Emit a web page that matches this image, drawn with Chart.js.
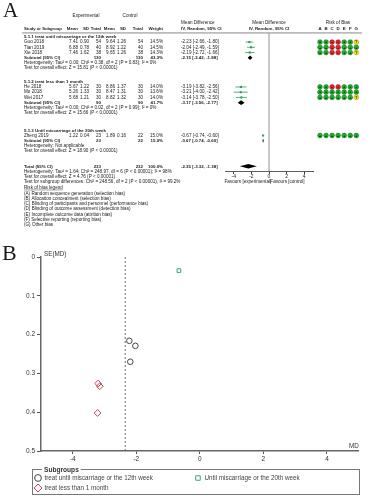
<!DOCTYPE html>
<html lang="en">
<head>
  <meta charset="UTF-8" />
  <title>Forest plot and funnel plot</title>
  <script src="https://cdn.jsdelivr.net/npm/chart.js"></script>
  <style>
    html, body { margin: 0; padding: 0; background: #fff; }
    #wrap { position: relative; width: 370px; height: 497px; overflow: hidden; }
    #forest { position: absolute; left: 0; top: 0; }
    #funnel { position: absolute; left: 0; top: 240px; }
  </style>
</head>
<body>
  <div id="wrap">
    <canvas id="forest" width="370" height="240"></canvas>
    <canvas id="funnel" width="370" height="257"></canvas>
  </div>

  <script>
    // ---------- panel A : forest plot ----------
    const studies   = ['Guo 2018', 'Tian 2019', 'Xie 2018', 'He 2018', 'Mo 2018', 'Wei 2017', 'Zheng 2019'];
    const studyGroup = [0, 0, 0, 1, 1, 1, 2];
    const expMean   = [7.41, 6.88, 7.46, 5.67, 5.26, 5.68, 1.22];
    const expSD     = [0.90, 0.78, 1.62, 1.22, 1.33, 1.21, 0.04];
    const expTotal  = [54, 40, 38, 30, 30, 30, 23];
    const ctlMean   = [9.64, 8.92, 9.65, 8.86, 8.47, 8.82, 1.89];
    const ctlSD     = [1.26, 1.22, 1.26, 1.37, 1.31, 1.32, 0.16];
    const ctlTotal  = [54, 40, 38, 30, 30, 30, 22];
    const weights   = [14.5, 14.5, 14.3, 14.0, 13.6, 14.0, 15.0];
    const md        = [-2.23, -2.04, -2.19, -3.19, -3.21, -3.14, -0.67];
    const mdLo      = [-2.66, -2.49, -2.72, -3.82, -4.00, -3.78, -0.74];
    const mdHi      = [-1.80, -1.59, -1.66, -2.56, -2.42, -2.50, -0.60];
    const riskOfBias = ['++--++?', '++--+++', '++--++?', '++--+++', '+++++++', '++++++?', '+++++++'];

    const groupNames = ['5.1.1 treat until miscarriage or the 12th week', '5.1.2 treat less than 1 month', '5.1.3 Until miscarriage of the 20th week'];
    const groupExpTotal = [130, 90, 23];
    const groupCtlTotal = [130, 90, 22];
    const groupWeight = [43.3, 41.7, 15.0];
    const groupMd = [-2.15, -3.17, -0.67];
    const groupLo = [-2.42, -3.56, -0.74];
    const groupHi = [-1.88, -2.77, -0.60];
    const groupHet = [
      'Heterogeneity: Tau² = 0.00; Chi² = 0.38, df = 2 (P = 0.83); I² = 0%',
      'Heterogeneity: Tau² = 0.00; Chi² = 0.02, df = 2 (P = 0.99); I² = 0%',
      'Heterogeneity: Not applicable'
    ];
    const groupTest = [
      'Test for overall effect: Z = 15.81 (P < 0.00001)',
      'Test for overall effect: Z = 15.66 (P < 0.00001)',
      'Test for overall effect: Z = 18.90 (P < 0.00001)'
    ];
    const totalExp = 233, totalCtl = 232, totalMd = -2.35, totalLo = -3.32, totalHi = -1.38;
    const totalNotes = [
      'Heterogeneity: Tau² = 1.64; Chi² = 248.97, df = 6 (P < 0.00001); I² = 98%',
      'Test for overall effect: Z = 4.76 (P < 0.00001)',
      'Test for subgroup differences: Chi² = 248.56, df = 2 (P < 0.00001), I² = 99.2%'
    ];
    const biasLegend = [
      '(A) Random sequence generation (selection bias)',
      '(B) Allocation concealment (selection bias)',
      '(C) Blinding of participants and personnel (performance bias)',
      '(D) Blinding of outcome assessment (detection bias)',
      '(E) Incomplete outcome data (attrition bias)',
      '(F) Selective reporting (reporting bias)',
      '(G) Other bias'
    ];
    const forestTicks = [-4, -2, 0, 2, 4];

    // ---------- panel B : funnel plot ----------
    const subgroupLabels = ['treat until miscarriage or the 12th week', 'treat less than 1 month', 'Until miscarriage or the 20th week'];
    const g1MD = [-2.22, -2.03, -2.19];
    const g1SE = [0.216, 0.229, 0.270];
    const g2MD = [-3.20, -3.15, -3.22];
    const g2SE = [0.326, 0.333, 0.402];
    const g3MD = [-0.66];
    const g3SE = [0.035];
    const pooledMD = -2.35;
    const funnelTicksX = [-4, -2, 0, 2, 4];
    const funnelTicksY = [0, 0.1, 0.2, 0.3, 0.4, 0.5];

    const FONT = '"Liberation Sans", Arial, sans-serif';
    const SERIF = '"Liberation Serif", "DejaVu Serif", serif';

    // line layout of the forest table (in text lines)
    const LINE_H = 5.4, LINE0_PX = 34, FOREST_H = 240;
    const groupStart = [0, 8.6, 17.9];
    const totalLine = 24.8;

    function studyLine(i) {
      const g = studyGroup[i];
      const first = studyGroup.indexOf(g);
      return groupStart[g] + 1 + (i - first);
    }
    function groupSize(g) { return studyGroup.filter(v => v === g).length; }

    function txt(ctx, s, x, y, align, bold, size) {
      ctx.font = (bold ? 'bold ' : '') + (size || (bold ? 4.4 : 4.6)) + 'px ' + FONT;
      ctx.textAlign = align || 'left';
      ctx.textBaseline = 'middle';
      ctx.fillText(s, x, y);
    }

    function diamond(ctx, x, lo, hi, c, yy) {
      ctx.beginPath();
      ctx.moveTo(x.getPixelForValue(lo), yy);
      ctx.lineTo(x.getPixelForValue(c), yy - 2.3);
      ctx.lineTo(x.getPixelForValue(hi), yy);
      ctx.lineTo(x.getPixelForValue(c), yy + 2.3);
      ctx.closePath();
      ctx.fillStyle = '#000';
      ctx.fill();
    }

    const forestDraw = {
      id: 'forestDraw',
      beforeDatasetsDraw(chart) {
        const { ctx, scales: { x, y } } = chart;
        ctx.save();
        // line of no effect
        ctx.strokeStyle = '#777';
        ctx.lineWidth = 0.8;
        ctx.beginPath();
        ctx.moveTo(x.getPixelForValue(0), y.getPixelForValue(-0.7));
        ctx.lineTo(x.getPixelForValue(0), y.getPixelForValue(totalLine + 1));
        ctx.stroke();
        // confidence intervals
        ctx.strokeStyle = '#2f9e5a';
        ctx.lineWidth = 0.8;
        studies.forEach((s, i) => {
          const yy = y.getPixelForValue(studyLine(i));
          ctx.beginPath();
          ctx.moveTo(x.getPixelForValue(mdLo[i]), yy);
          ctx.lineTo(x.getPixelForValue(mdHi[i]), yy);
          ctx.stroke();
        });
        // subtotal and total diamonds
        groupNames.forEach((g, k) => {
          diamond(ctx, x, groupLo[k], groupHi[k], groupMd[k], y.getPixelForValue(groupStart[k] + groupSize(k) + 1));
        });
        diamond(ctx, x, totalLo, totalHi, totalMd, y.getPixelForValue(totalLine));
        ctx.restore();
      },
      afterDraw(chart) {
        const { ctx, scales: { x, y } } = chart;
        const Y = l => y.getPixelForValue(l);
        const col = { name: 24, em: 78, esd: 89, en: 101, cm: 115, csd: 126, cn: 143, w: 163, ci: 181 };
        const ci = (c, lo, hi) => c.toFixed(2) + ' [' + lo.toFixed(2) + ', ' + hi.toFixed(2) + ']';
        ctx.save();
        ctx.fillStyle = '#1a1a1a';

        // panel letter
        ctx.font = '21px ' + SERIF;
        ctx.textAlign = 'left';
        ctx.textBaseline = 'alphabetic';
        ctx.fillText('A', 3, 17);

        // header
        txt(ctx, 'Experimental', 86, Y(-4), 'center');
        txt(ctx, 'Control', 130, Y(-4), 'center');
        txt(ctx, 'Mean Difference', col.ci, Y(-2.8));
        txt(ctx, 'Mean Difference', x.getPixelForValue(0), Y(-2.8), 'center');
        txt(ctx, 'Risk of Bias', 338, Y(-2.8), 'center');
        const hy = Y(-1.6);
        txt(ctx, 'Study or Subgroup', col.name, hy, 'left', true, 4.2);
        txt(ctx, 'Mean', col.em, hy, 'right', true);
        txt(ctx, 'SD', col.esd, hy, 'right', true);
        txt(ctx, 'Total', col.en, hy, 'right', true);
        txt(ctx, 'Mean', col.cm, hy, 'right', true);
        txt(ctx, 'SD', col.csd, hy, 'right', true);
        txt(ctx, 'Total', col.cn, hy, 'right', true);
        txt(ctx, 'Weight', col.w, hy, 'right', true);
        txt(ctx, 'IV, Random, 95% CI', col.ci, hy, 'left', true);
        txt(ctx, 'IV, Random, 95% CI', x.getPixelForValue(0), hy, 'center', true);
        'ABCDEFG'.split('').forEach((c, j) => txt(ctx, c, 320 + j * 6.05, hy, 'center', true));
        ctx.strokeStyle = '#555';
        ctx.lineWidth = 0.7;
        ctx.beginPath();
        ctx.moveTo(22, Y(-0.75));
        ctx.lineTo(362, Y(-0.75));
        ctx.stroke();

        // groups
        groupNames.forEach((g, k) => {
          txt(ctx, g, col.name, Y(groupStart[k]), 'left', true);
          const sub = groupStart[k] + groupSize(k) + 1;
          txt(ctx, 'Subtotal (95% CI)', col.name, Y(sub), 'left', true);
          txt(ctx, String(groupExpTotal[k]), col.en, Y(sub), 'right', true);
          txt(ctx, String(groupCtlTotal[k]), col.cn, Y(sub), 'right', true);
          txt(ctx, groupWeight[k].toFixed(1) + '%', col.w, Y(sub), 'right', true);
          txt(ctx, ci(groupMd[k], groupLo[k], groupHi[k]), col.ci, Y(sub), 'left', true);
          txt(ctx, groupHet[k], col.name, Y(sub + 1));
          txt(ctx, groupTest[k], col.name, Y(sub + 2));
        });

        // studies
        studies.forEach((s, i) => {
          const yy = Y(studyLine(i));
          txt(ctx, s, col.name, yy);
          txt(ctx, expMean[i].toFixed(2), col.em, yy, 'right');
          txt(ctx, expSD[i].toFixed(2), col.esd, yy, 'right');
          txt(ctx, String(expTotal[i]), col.en, yy, 'right');
          txt(ctx, ctlMean[i].toFixed(2), col.cm, yy, 'right');
          txt(ctx, ctlSD[i].toFixed(2), col.csd, yy, 'right');
          txt(ctx, String(ctlTotal[i]), col.cn, yy, 'right');
          txt(ctx, weights[i].toFixed(1) + '%', col.w, yy, 'right');
          txt(ctx, ci(md[i], mdLo[i], mdHi[i]), col.ci, yy);
          // risk of bias dots
          riskOfBias[i].split('').forEach((r, j) => {
            const cx = 320 + j * 6.05;
            ctx.beginPath();
            ctx.arc(cx, yy, 2.4, 0, Math.PI * 2);
            ctx.fillStyle = r === '+' ? '#1fae2a' : r === '-' ? '#e0242c' : '#f4e11c';
            ctx.fill();
            ctx.strokeStyle = r === '+' ? '#0b6b12' : r === '-' ? '#8a1015' : '#9a8a10';
            ctx.lineWidth = 0.5;
            ctx.stroke();
            ctx.fillStyle = '#111';
            txt(ctx, r === '-' ? '–' : r, cx, yy + 0.2, 'center', true, 3.6);
          });
          ctx.fillStyle = '#1a1a1a';
        });

        // total
        const ty = Y(totalLine);
        txt(ctx, 'Total (95% CI)', col.name, ty, 'left', true);
        txt(ctx, String(totalExp), col.en, ty, 'right', true);
        txt(ctx, String(totalCtl), col.cn, ty, 'right', true);
        txt(ctx, '100.0%', col.w, ty, 'right', true);
        txt(ctx, ci(totalMd, totalLo, totalHi), col.ci, ty, 'left', true);
        totalNotes.forEach((n, k) => txt(ctx, n, col.name, Y(totalLine + 1 + k)));
        const ly = Y(totalLine + 4.1);
        txt(ctx, 'Risk of bias legend', col.name, ly);
        ctx.font = '4.6px ' + FONT;
        const lw = ctx.measureText('Risk of bias legend').width;
        ctx.strokeStyle = '#1a1a1a';
        ctx.lineWidth = 0.4;
        ctx.beginPath();
        ctx.moveTo(col.name, ly + 2.2);
        ctx.lineTo(col.name + lw, ly + 2.2);
        ctx.stroke();
        biasLegend.forEach((b, k) => txt(ctx, b, col.name, Y(totalLine + 5.2 + k)));

        // favours labels under the axis
        const ay = Y(totalLine + 1);
        txt(ctx, 'Favours [experimental]', x.getPixelForValue(-2.4), ay + 10, 'center');
        txt(ctx, 'Favours [control]', x.getPixelForValue(2.1), ay + 10, 'center');
        ctx.restore();
      }
    };

    const yMin = -LINE0_PX / LINE_H;
    const yMax = yMin + FOREST_H / LINE_H;

    new Chart(document.getElementById('forest'), {
      type: 'scatter',
      data: {
        datasets: [{
          data: studies.map((s, i) => ({ x: md[i], y: studyLine(i) })),
          pointStyle: 'rect',
          pointRadius: 1.5,
          backgroundColor: '#2f9e5a',
          borderColor: '#2f9e5a',
          borderWidth: 0
        }]
      },
      options: {
        responsive: false,
        animation: false,
        layout: { padding: { left: 225, right: 57, top: 0, bottom: 0 } },
        plugins: { legend: { display: false }, tooltip: { enabled: false } },
        scales: {
          x: {
            type: 'linear',
            min: -5,
            max: 5,
            position: { y: totalLine + 1 },
            afterBuildTicks: s => { s.ticks = forestTicks.map(v => ({ value: v })); },
            ticks: { font: { size: 5, family: FONT }, color: '#222', padding: 0 },
            grid: { drawOnChartArea: false, tickLength: 2, color: '#333' },
            border: { color: '#333', width: 0.8 }
          },
          y: { type: 'linear', reverse: true, min: yMin, max: yMax, display: false }
        }
      },
      plugins: [forestDraw]
    });

    // ---------- funnel plot ----------
    const funnelExtras = {
      id: 'funnelExtras',
      afterDraw(chart) {
        const { ctx, chartArea: a } = chart;
        ctx.save();
        ctx.fillStyle = '#1a1a1a';
        ctx.font = '22px ' + SERIF;
        ctx.textAlign = 'left';
        ctx.textBaseline = 'alphabetic';
        ctx.fillText('B', 2, 20);

        ctx.fillStyle = '#333';
        txt(ctx, 'SE(MD)', a.left + 3, a.top - 3, 'left', false, 6.3);
        txt(ctx, 'MD', a.right, a.bottom - 5, 'right', false, 6.3);

        // legend box
        const top = 229, bottom = 254, left = 32, right = 359;
        ctx.strokeStyle = '#777';
        ctx.lineWidth = 1;
        ctx.strokeRect(left + 0.5, top + 0.5, right - left, bottom - top);
        ctx.font = 'bold 6.6px ' + FONT;
        const tw = ctx.measureText('Subgroups').width;
        ctx.fillStyle = '#fff';
        ctx.fillRect(42, top - 3, tw + 4, 6);
        ctx.fillStyle = '#333';
        txt(ctx, 'Subgroups', 44, top + 1, 'left', true, 6.6);
        const slots = [[38, 238], [38, 248], [198, 238]];
        chart.data.datasets.slice(0, 3).forEach((ds, k) => {
          const [sx, sy] = slots[k];
          ctx.strokeStyle = ds.borderColor;
          ctx.fillStyle = 'rgba(0,0,0,0)';
          Chart.helpers.drawPoint(ctx, { pointStyle: ds.pointStyle, radius: ds.pointRadius + 0.6, rotation: 0, borderWidth: 1 }, sx, sy);
          ctx.fillStyle = '#444';
          txt(ctx, ds.label, sx + 6.5, sy, 'left', false, 6.3);
        });
        ctx.restore();
      }
    };

    new Chart(document.getElementById('funnel'), {
      type: 'scatter',
      data: {
        datasets: [
          {
            label: subgroupLabels[0],
            data: g1MD.map((v, i) => ({ x: v, y: g1SE[i] })),
            pointStyle: 'circle', pointRadius: 2.8,
            borderColor: '#444', backgroundColor: 'rgba(0,0,0,0)', borderWidth: 1
          },
          {
            label: subgroupLabels[1],
            data: g2MD.map((v, i) => ({ x: v, y: g2SE[i] })),
            pointStyle: 'rectRot', pointRadius: 3.4,
            borderColor: '#d2405a', backgroundColor: 'rgba(0,0,0,0)', borderWidth: 1
          },
          {
            label: subgroupLabels[2],
            data: g3MD.map((v, i) => ({ x: v, y: g3SE[i] })),
            pointStyle: 'rect', pointRadius: 2.6,
            borderColor: '#3aa57e', backgroundColor: 'rgba(0,0,0,0)', borderWidth: 1
          },
          {
            type: 'line',
            data: [{ x: pooledMD, y: 0 }, { x: pooledMD, y: 0.5 }],
            borderColor: '#5b6b7c', borderWidth: 1, borderDash: [2, 2],
            pointRadius: 0
          }
        ]
      },
      options: {
        responsive: false,
        animation: false,
        layout: { padding: { left: 0, right: 11.25, top: 17, bottom: 28 } },
        plugins: { legend: { display: false }, tooltip: { enabled: false } },
        scales: {
          x: {
            type: 'linear', min: -5, max: 5,
            afterBuildTicks: s => { s.ticks = funnelTicksX.map(v => ({ value: v })); },
            afterFit: s => { s.height = 18; },
            ticks: { font: { size: 6.5, family: FONT }, color: '#333', padding: 1 },
            grid: { drawOnChartArea: false, tickLength: 3, color: '#555' },
            border: { color: '#666', width: 1.5 }
          },
          y: {
            type: 'linear', reverse: true, min: 0, max: 0.5,
            afterBuildTicks: s => { s.ticks = funnelTicksY.map(v => ({ value: v })); },
            afterFit: s => { s.width = 41; },
            ticks: {
              font: { size: 6.5, family: FONT }, color: '#333', padding: 2,
              callback: v => v === 0 ? '0' : v.toFixed(1)
            },
            grid: { drawOnChartArea: false, tickLength: 4, color: '#555' },
            border: { color: '#666', width: 1.5 }
          }
        }
      },
      plugins: [funnelExtras]
    });
  </script>
</body>
</html>
